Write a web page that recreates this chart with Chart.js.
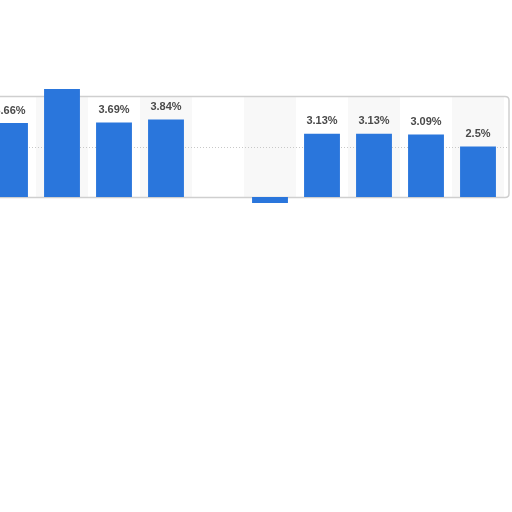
<!DOCTYPE html>
<html>
<head>
<meta charset="utf-8">
<script src="https://cdn.jsdelivr.net/npm/chart.js@4"></script>
<style>
  html, body { margin: 0; padding: 0; background: #fff; width: 512px; height: 512px; overflow: hidden; }
  #wrap { position: absolute; left: -16px; top: 0; width: 530px; height: 512px; }
</style>
</head>
<body>
<div id="wrap"><canvas id="myChart"></canvas></div>
<script>
// categories are cut off in the reference, only the slots are known
const categories = ["1", "2", "3", "4", "5", "6", "7", "8", "9", "10"];
const values = [3.66, 5.35, 3.69, 3.84, null, -0.3, 3.13, 3.13, 3.09, 2.5];
const valueLabels = ["3.66%", "", "3.69%", "3.84%", "", "", "3.13%", "3.13%", "3.09%", "2.5%"];
const gridValues = [2.5];

// background bands, frame and dotted gridline
const framePlugin = {
  id: "frame",
  beforeDatasetsDraw(chart) {
    const { ctx, chartArea, scales } = chart;
    const x = scales.x, y = scales.y;
    const colW = (chartArea.right - chartArea.left) / categories.length;
    ctx.save();
    categories.forEach((c, i) => {
      if (i % 2 === 1) {
        ctx.fillStyle = "#f8f8f8";
        ctx.fillRect(x.getPixelForValue(i) - colW / 2, chartArea.top, colW, chartArea.bottom - chartArea.top);
      }
    });
    // dotted gridline
    ctx.strokeStyle = "#c8c8c8";
    ctx.lineWidth = 1;
    ctx.setLineDash([1, 2]);
    gridValues.forEach((v) => {
      const py = Math.round(y.getPixelForValue(v)) + 0.5;
      ctx.beginPath();
      ctx.moveTo(chartArea.left, py);
      ctx.lineTo(chartArea.right + 5, py);
      ctx.stroke();
    });
    ctx.setLineDash([]);
    // frame
    const top = y.getPixelForValue(5) + 0.5;
    const bottom = y.getPixelForValue(0) + 0.5;
    const right = chartArea.right + 5;
    const r = 4;
    ctx.strokeStyle = "#cfcfcf";
    ctx.lineWidth = 1.5;
    ctx.beginPath();
    ctx.moveTo(chartArea.left - 20, top);
    ctx.lineTo(right - r, top);
    ctx.quadraticCurveTo(right, top, right, top + r);
    ctx.lineTo(right, bottom - r);
    ctx.quadraticCurveTo(right, bottom, right - r, bottom);
    ctx.lineTo(chartArea.left - 20, bottom);
    ctx.stroke();
    ctx.restore();
  },
  afterDatasetsDraw(chart) {
    const { ctx } = chart;
    const meta = chart.getDatasetMeta(0);
    ctx.save();
    ctx.font = "bold 11px 'Liberation Sans', Arial, sans-serif";
    ctx.fillStyle = "#4a4a4a";
    ctx.textAlign = "center";
    ctx.textBaseline = "bottom";
    meta.data.forEach((bar, i) => {
      if (!valueLabels[i]) return;
      ctx.fillText(valueLabels[i], bar.x, bar.y - 7);
    });
    ctx.restore();
  }
};

const ctx = document.getElementById("myChart").getContext("2d");
new Chart(ctx, {
  type: "bar",
  data: {
    labels: categories,
    datasets: [
      {
        data: values,
        backgroundColor: "#2a76dc",
        borderWidth: 0,
        barPercentage: 0.69,
        categoryPercentage: 1,
        clip: false
      }
    ]
  },
  options: {
    responsive: true,
    maintainAspectRatio: false,
    animation: false,
    layout: { padding: { top: 96, bottom: 315, left: 0, right: 10 } },
    plugins: {
      legend: { display: false },
      tooltip: { enabled: false }
    },
    scales: {
      x: { display: false },
      y: { display: false, min: 0, max: 5 }
    }
  },
  plugins: [framePlugin]
});
</script>
</body>
</html>
